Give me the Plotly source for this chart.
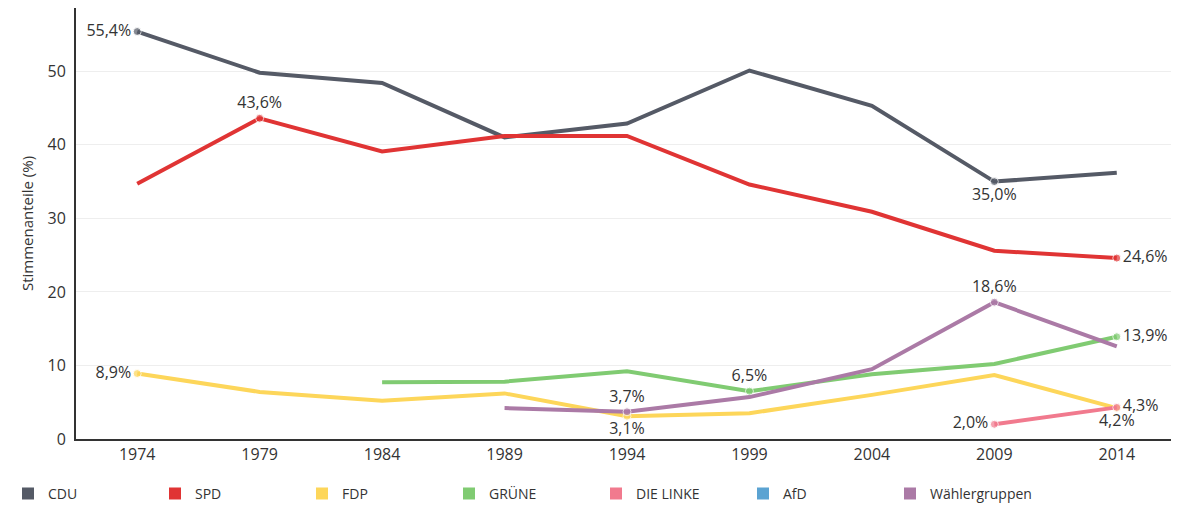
import plotly.graph_objects as go

years = ['1974', '1979', '1984', '1989', '1994', '1999', '2004', '2009', '2014']

cdu = [55.4, 49.8, 48.4, 41.0, 42.9, 50.1, 45.3, 35.0, 36.2]
spd = [34.7, 43.6, 39.1, 41.2, 41.2, 34.6, 30.9, 25.6, 24.6]
fdp = [8.9, 6.4, 5.2, 6.2, 3.1, 3.5, 6.0, 8.7, 4.2]
gruene = [None, None, 7.7, 7.8, 9.2, 6.5, 8.8, 10.2, 13.9]
linke = [None, None, None, None, None, None, None, 2.0, 4.3]
afd = [None] * 9
waehler = [None, None, None, 4.2, 3.7, 5.7, 9.5, 18.6, 12.6]

# which points carry a value label, and where it goes
labels = {
    'CDU': {'1974': 'middle left', '2009': 'bottom center'},
    'SPD': {'1979': 'top center', '2014': 'middle right'},
    'FDP': {'1974': 'middle left', '1994': 'bottom center', '2014': 'bottom center'},
    'GRÜNE': {'1999': 'top center', '2014': 'middle right'},
    'DIE LINKE': {'2009': 'middle left', '2014': 'middle right'},
    'AfD': {},
    'Wählergruppen': {'1994': 'top center', '2009': 'top center'},
}

series = [
    ('CDU', cdu, '#555a66'),
    ('SPD', spd, '#e03434'),
    ('FDP', fdp, '#fdd65a'),
    ('GRÜNE', gruene, '#80cb72'),
    ('DIE LINKE', linke, '#f17a8e'),
    ('AfD', afd, '#5ba3d2'),
    ('Wählergruppen', waehler, '#ab7aa6'),
]

fig = go.Figure()

for name, vals, color in series:
    lab = labels[name]
    text = [(f'{v:.1f}%'.replace('.', ',') if (y in lab and v is not None) else '') for y, v in zip(years, vals)]
    pos = [lab.get(y, 'top center') for y in years]
    sizes = [8 if y in lab else 0 for y in years]
    fig.add_trace(go.Scatter(
        x=years, y=vals, name=name, mode='lines+markers+text',
        line=dict(color=color, width=4),
        marker=dict(color=color, size=sizes),
        text=text, textposition=pos,
        textfont=dict(size=16, color='#333333'),
        showlegend=False, hoverinfo='skip', cliponaxis=False
    ))

# legend entries as coloured squares
for name, vals, color in series:
    fig.add_trace(go.Scatter(
        x=[None], y=[None], name=name, mode='markers',
        marker=dict(symbol='square', color=color, size=20),
    ))

# page body has an 8px margin, so the figure is sized to fit inside the window
fig.update_layout(
    width=1171, height=503,
    margin=dict(l=68, r=1, t=0, b=72, autoexpand=False),
    paper_bgcolor='white', plot_bgcolor='white',
    font=dict(family='Open Sans, sans-serif', size=15, color='#333333'),
    legend=dict(orientation='h', xref='container', yref='container', x=-0.009, y=0.034,
                xanchor='left', yanchor='middle',
                entrywidth=102, font=dict(size=14), itemsizing='constant'),
)
fig.update_xaxes(type='category', range=[-0.5, 8.5], showline=True, linecolor='#333333', linewidth=2,
                 showgrid=False, ticks='', tickfont=dict(size=16), automargin=False)
fig.update_yaxes(range=[0, 58.6], showline=True, linecolor='#333333', linewidth=2,
                 showgrid=True, gridcolor='#eeeeee', zeroline=False, tickvals=[0, 10, 20, 30, 40, 50],
                 ticklabelstandoff=5, automargin=False,
                 title=dict(text='Stimmenanteile (%)', font=dict(size=15), standoff=10), tickfont=dict(size=16))

fig.write_html('out.html')
